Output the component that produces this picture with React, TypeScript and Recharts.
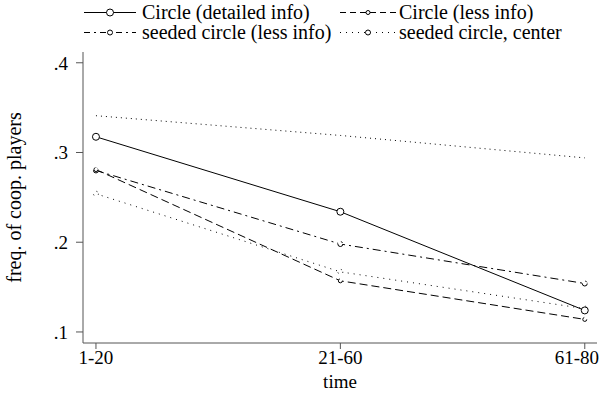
import React from "react";
import { LineChart, Line, XAxis, YAxis, Label } from "recharts";

const periods = ["1-20", "21-60", "61-80"];
const circleDetailed = [0.3175, 0.234, 0.124];
const circleLess = [0.281, 0.157, 0.114];
const seededLess = [0.28, 0.198, 0.154];
const seededCenter = [0.254, 0.167, 0.126];
const upperDotted = [0.341, 0.319, 0.294];
const yTicks = [0.1, 0.2, 0.3, 0.4];

const data = periods.map((p, i) => ({
  x: i,
  period: p,
  detailed: circleDetailed[i],
  less: circleLess[i],
  seededLess: seededLess[i],
  center: seededCenter[i],
  upper: upperDotted[i],
}));

const font = "Liberation Serif, Tinos, DejaVu Serif, serif";

const legendItems = [
  { name: "Circle (detailed info)", dash: undefined, r: 3.5 },
  { name: "Circle (less info)", dash: "6 4", r: 2 },
  { name: "seeded circle (less info)", dash: "6 4 2 4", r: 2.5 },
  { name: "seeded circle, center", dash: "1 5", r: 2.5 },
];

function LegendBox() {
  return (
    <div
      style={{
        position: "absolute",
        left: 84,
        top: 3,
        display: "grid",
        gridTemplateColumns: "256px 240px",
        fontFamily: font,
        fontSize: 20,
        lineHeight: "19.5px",
        color: "#000",
      }}
    >
      {legendItems.map((it, i) => (
        <div key={it.name} style={{ display: "flex", alignItems: "center", whiteSpace: "nowrap" }}>
          <svg width={i % 2 === 0 ? 52 : 56} height={19} style={{ marginRight: i % 2 === 0 ? 6 : 3 }}>
            <line x1={0} x2={60} y1={9.5} y2={9.5} stroke="#000" strokeWidth={1} strokeDasharray={it.dash} />
            <circle cx={i % 2 === 0 ? 26 : 28} cy={9.5} r={it.r} fill="#fff" stroke="#000" strokeWidth={1} />
          </svg>
          <span>{it.name}</span>
        </div>
      ))}
    </div>
  );
}

export default function App() {
  return (
    <div style={{ position: "absolute", left: 0, top: 0, width: 599, height: 395, background: "#fff" }}>
      <LineChart
        width={599}
        height={395}
        data={data}
        margin={{ top: 52, right: 2, left: 0, bottom: 0 }}
      >
        <XAxis
          dataKey="x"
          type="number"
          domain={[-0.053, 2.05]}
          ticks={[0, 1, 2]}
          tickFormatter={(v: number) => periods[v]}
          height={52}
          stroke="#555"
          tickSize={6}
          tickMargin={2}
          tick={{ fontFamily: font, fontSize: 19, fill: "#000" }}
          allowDataOverflow
        >
          <Label
            value="time"
            position="insideBottom"
            offset={7}
            style={{ fontFamily: font, fontSize: 19, fill: "#000" }}
          />
        </XAxis>
        <YAxis
          type="number"
          domain={[0.0877, 0.412]}
          ticks={yTicks}
          tickFormatter={(v: number) => v.toFixed(1).replace(/^0/, "")}
          width={83}
          stroke="#555"
          tickSize={7}
          tickMargin={8}
          tick={{ fontFamily: font, fontSize: 19, fill: "#000" }}
          allowDataOverflow
        >
          <Label
            value="freq. of coop. players"
            angle={-90}
            position="insideLeft"
            offset={14}
            style={{ fontFamily: font, fontSize: 20, fill: "#000", textAnchor: "middle" }}
          />
        </YAxis>
        <Line
          dataKey="upper"
          stroke="#000"
          strokeWidth={1}
          strokeDasharray="1 4"
          dot={false}
          isAnimationActive={false}
        />
        <Line
          dataKey="center"
          stroke="#000"
          strokeWidth={1}
          strokeDasharray="1 5"
          dot={{ r: 2.5, fill: "#fff", stroke: "#000", strokeWidth: 1 }}
          isAnimationActive={false}
        />
        <Line
          dataKey="seededLess"
          stroke="#000"
          strokeWidth={1}
          strokeDasharray="8 4 2 4"
          dot={{ r: 2.5, fill: "#fff", stroke: "#000", strokeWidth: 1 }}
          isAnimationActive={false}
        />
        <Line
          dataKey="less"
          stroke="#000"
          strokeWidth={1}
          strokeDasharray="8 4"
          dot={{ r: 2, fill: "#fff", stroke: "#000", strokeWidth: 1 }}
          isAnimationActive={false}
        />
        <Line
          dataKey="detailed"
          stroke="#000"
          strokeWidth={1}
          dot={{ r: 3.5, fill: "#fff", stroke: "#000", strokeWidth: 1 }}
          isAnimationActive={false}
        />
      </LineChart>
      <LegendBox />
    </div>
  );
}
